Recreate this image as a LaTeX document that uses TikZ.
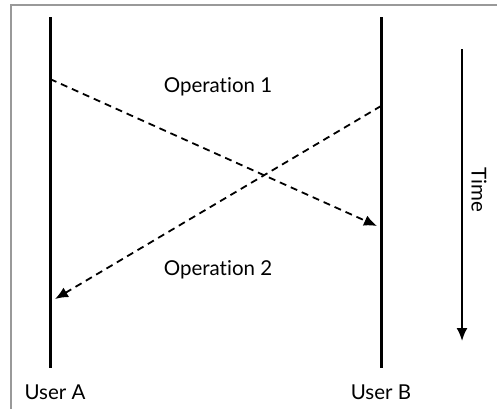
\documentclass[tikz,border=0pt]{standalone}
\usepackage{fontspec}
\setmainfont{Lato}[Ligatures={NoCommon,NoContextual}]
\usetikzlibrary{arrows.meta}
\begin{document}
\begin{tikzpicture}[x=1pt,y=-1pt,
  lifeline/.style={line width=3pt},
  msg/.style={line width=1.8pt,dash pattern=on 7pt off 5pt,-{Latex[length=13pt,width=11pt]}},
  lbl/.style={font=\fontsize{20.5}{22}\selectfont,inner sep=0pt},
  frame/.style={draw=gray!80,line width=1.5pt}]
\useasboundingbox (0,0) rectangle (497,408);
\clip (0,0) rectangle (497,408);
\draw[frame] (11,5) rectangle (520,430);
% lifelines
\coordinate (a1) at (50,17);
\coordinate (a2) at (50,368);
\coordinate (b1) at (381,17);
\coordinate (b2) at (381,368);
\draw[lifeline] (a1) -- (a2);
\draw[lifeline] (b1) -- (b2);
% messages
\coordinate (s1) at (50,79);
\coordinate (e1) at (377,226);
\coordinate (s2) at (381,106);
\coordinate (e2) at (55,299);
\draw[msg] (s1) -- (e1);
\draw[msg] (s2) -- (e2);
\node[lbl] (op1) at (218,87) {Operation 1};
\node[lbl] (op2) at (218,270) {Operation 2};
\node[lbl] (ua) at (55,392) {User A};
\node[lbl] (ub) at (381,392) {User B};
% time arrow
\coordinate (t1) at (462,49);
\coordinate (t2) at (462,341);
\draw[line width=2pt,-{Latex[length=13pt,width=11pt]}] (t1) -- (t2);
\node[lbl,rotate=-90] (time) at (479,190) {Time};
\end{tikzpicture}
\end{document}
